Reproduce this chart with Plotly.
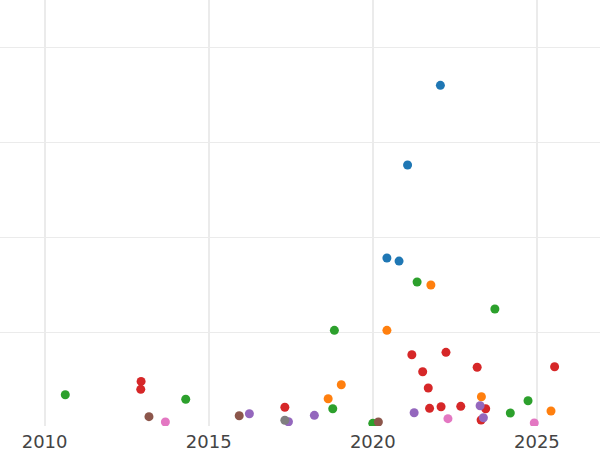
import plotly.graph_objects as go

# Series data (year, value)
blue_x = [2022.06, 2021.06, 2020.43, 2020.80]
blue_y = [36.0, 27.61, 17.82, 17.5]

orange_x = [2021.77, 2020.43, 2019.04, 2018.64, 2023.31, 2025.43]
orange_y = [14.98, 10.21, 4.48, 3.01, 3.22, 1.72]

green_x = [2010.63, 2014.30, 2018.83, 2018.78, 2020.0, 2021.35, 2023.72, 2024.19, 2024.73]
green_y = [3.43, 2.95, 10.21, 1.96, 0.42, 15.3, 12.45, 1.51, 2.8]

red_x = [2012.94, 2012.93, 2017.32, 2021.19, 2022.23, 2021.52, 2023.18, 2021.69,
         2021.73, 2022.08, 2022.68, 2023.44, 2023.30, 2025.54]
red_y = [4.83, 4.0, 2.11, 7.64, 7.89, 5.85, 6.32, 4.14,
         2.0, 2.17, 2.21, 1.96, 0.77, 6.38]

purple_x = [2016.24, 2017.43, 2018.22, 2021.26, 2023.27, 2023.37]
purple_y = [1.43, 0.59, 1.26, 1.54, 2.27, 1.01]

brown_x = [2013.18, 2015.93, 2020.17]
brown_y = [1.12, 1.22, 0.56]

pink_x = [2013.68, 2022.29, 2024.92]
pink_y = [0.56, 0.91, 0.45]

gray_x = [2017.32]
gray_y = [0.74]

series = [
    ("Blue", blue_x, blue_y, "#1f77b4"),
    ("Orange", orange_x, orange_y, "#ff7f0e"),
    ("Green", green_x, green_y, "#2ca02c"),
    ("Red", red_x, red_y, "#d62728"),
    ("Purple", purple_x, purple_y, "#9467bd"),
    ("Brown", brown_x, brown_y, "#8c564b"),
    ("Pink", pink_x, pink_y, "#e377c2"),
    ("Gray", gray_x, gray_y, "#7f7f7f"),
]

x_ticks = [2010, 2015, 2020, 2025]
x_tick_labels = ["2010", "2015", "2020", "2025"]
y_ticks = [0, 10, 20, 30, 40]

fig = go.Figure()
for name, xs, ys, color in series:
    fig.add_trace(go.Scatter(x=xs, y=ys, mode="markers", name=name,
                             marker=dict(color=color, size=9, line=dict(width=0))))

fig.update_layout(
    width=600, height=450,
    margin=dict(l=0, r=0, t=0, b=24),
    paper_bgcolor="white", plot_bgcolor="white",
    showlegend=False,
    font=dict(family="DejaVu Sans", size=18, color="#444444"),
)
fig.update_xaxes(range=[2008.641, 2026.923], tickvals=x_ticks, ticktext=x_tick_labels,
                 showgrid=True, gridcolor="#ebebeb", gridwidth=2, zeroline=False,
                 showline=False, ticks="", ticklabelstandoff=3, automargin=False)
fig.update_yaxes(range=[0.14, 44.98], tickvals=y_ticks, showticklabels=False,
                 showgrid=True, gridcolor="#ebebeb", gridwidth=1, zeroline=False,
                 showline=False, ticks="", automargin=False)

fig.write_html("out.html", config={"displayModeBar": False},
               post_script="document.body.style.margin='0';document.body.style.padding='0';")
